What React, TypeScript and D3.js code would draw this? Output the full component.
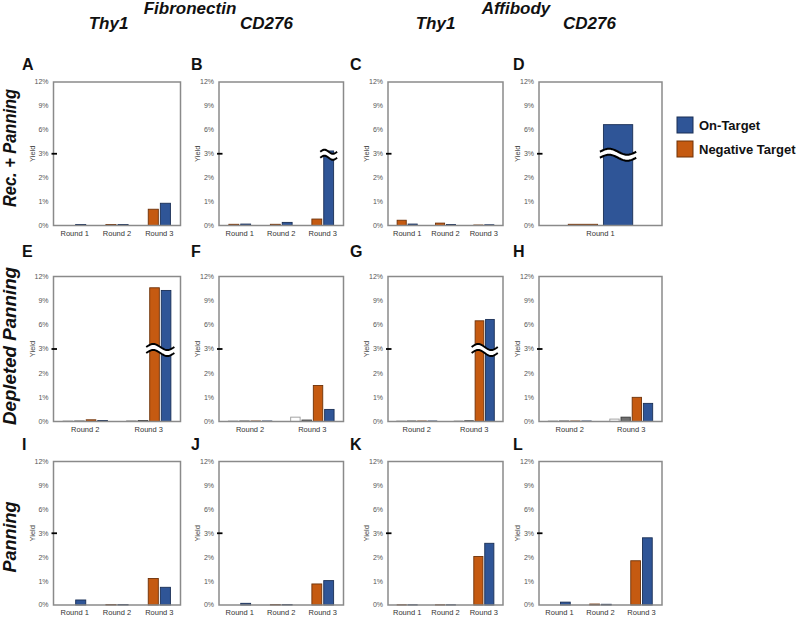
import React from "react";
import * as d3 from "d3";

// ---- data ----
const yTickValues = [0, 1, 2, 3, 6, 9, 12];
const rounds123 = ["Round 1", "Round 2", "Round 3"];
const rounds23 = ["Round 2", "Round 3"];
const rounds1 = ["Round 1"];

const A_neg = [0, 0.04, 0.68];
const A_on = [0.04, 0.04, 0.93];
const B_neg = [0.05, 0.05, 0.27];
const B_on = [0.06, 0.13, 3.35];
const C_neg = [0.22, 0.1, 0.02];
const C_on = [0.06, 0.04, 0.03];
const D_neg = [0.05];
const D_on = [6.65];

const E_white = [0.02, 0.03];
const E_gray = [0.02, 0.04];
const E_neg = [0.07, 10.6];
const E_on = [0.04, 10.27];
const F_white = [0.02, 0.18];
const F_gray = [0.02, 0.06];
const F_neg = [0.02, 1.49];
const F_on = [0.02, 0.5];
const G_white = [0.02, 0.02];
const G_gray = [0.02, 0.03];
const G_neg = [0.02, 6.5];
const G_on = [0.02, 6.67];
const H_white = [0.02, 0.1];
const H_gray = [0.02, 0.18];
const H_neg = [0.02, 1.0];
const H_on = [0.02, 0.75];

const I_neg = [0, 0.02, 1.11];
const I_on = [0.21, 0.02, 0.74];
const J_neg = [0, 0.02, 0.88];
const J_on = [0.07, 0.02, 1.02];
const K_neg = [0.01, 0.01, 2.03];
const K_on = [0.01, 0.01, 2.58];
const L_neg = [0, 0.04, 1.85];
const L_on = [0.12, 0.03, 2.81];

const legendLabels = ["On-Target", "Negative Target"];
const rowLabels = ["Rec. + Panning", "Depleted Panning", "Panning"];
const groupHeaders = ["Fibronectin", "Affibody"];
const colHeaders = ["Thy1", "CD276", "Thy1", "CD276"];

type Series = { key: string; values: number[] };
type Panel = {
  id: string;
  row: number;
  col: number;
  cats: string[];
  series: Series[];
  breaks?: { cat: string; keys: string[] }[];
};

const two = (neg: number[], on: number[]): Series[] => [
  { key: "neg", values: neg },
  { key: "on", values: on },
];
const four = (w: number[], g: number[], neg: number[], on: number[]): Series[] => [
  { key: "white", values: w },
  { key: "gray", values: g },
  { key: "neg", values: neg },
  { key: "on", values: on },
];

const panels: Panel[] = [
  { id: "A", row: 0, col: 0, cats: rounds123, series: two(A_neg, A_on) },
  { id: "B", row: 0, col: 1, cats: rounds123, series: two(B_neg, B_on), breaks: [{ cat: "Round 3", keys: ["on"] }] },
  { id: "C", row: 0, col: 2, cats: rounds123, series: two(C_neg, C_on) },
  { id: "D", row: 0, col: 3, cats: rounds1, series: two(D_neg, D_on), breaks: [{ cat: "Round 1", keys: ["on"] }] },
  { id: "E", row: 1, col: 0, cats: rounds23, series: four(E_white, E_gray, E_neg, E_on), breaks: [{ cat: "Round 3", keys: ["neg", "on"] }] },
  { id: "F", row: 1, col: 1, cats: rounds23, series: four(F_white, F_gray, F_neg, F_on) },
  { id: "G", row: 1, col: 2, cats: rounds23, series: four(G_white, G_gray, G_neg, G_on), breaks: [{ cat: "Round 3", keys: ["neg", "on"] }] },
  { id: "H", row: 1, col: 3, cats: rounds23, series: four(H_white, H_gray, H_neg, H_on) },
  { id: "I", row: 2, col: 0, cats: rounds123, series: two(I_neg, I_on) },
  { id: "J", row: 2, col: 1, cats: rounds123, series: two(J_neg, J_on) },
  { id: "K", row: 2, col: 2, cats: rounds123, series: two(K_neg, K_on) },
  { id: "L", row: 2, col: 3, cats: rounds123, series: two(L_neg, L_on) },
];

// ---- layout / style ----
const W = 800;
const H = 617;
const colLeft = [53.5, 219, 388, 539];
const colRight = [180.5, 343.5, 503, 662];
const rowTop = [82, 276.5, 461.5];
const rowBottom = [225.5, 421.5, 605];
const letterX = [22, 191, 350, 513];
const letterY = [70, 257, 450];

const styles: Record<string, { fill: string; stroke: string }> = {
  neg: { fill: "#C55A11", stroke: "#6E3209" },
  on: { fill: "#2F5597", stroke: "#1A2F55" },
  white: { fill: "#FFFFFF", stroke: "#9A9A9A" },
  gray: { fill: "#6F6F6F", stroke: "#3A3A3A" },
};

const FONT = "Liberation Sans, Arial, sans-serif";

function squigglePath(x0: number, x1: number, yc: number, off: number, amp: number) {
  const n = 24;
  const pts: [number, number][] = [];
  for (let i = 0; i <= n; i++) {
    const t = i / n;
    pts.push([x0 + (x1 - x0) * t, yc + off - amp * Math.sin(2 * Math.PI * t)]);
  }
  return pts;
}

function PanelView({ p }: { p: Panel }) {
  const left = colLeft[p.col];
  const right = colRight[p.col];
  const top = rowTop[p.row];
  const bottom = rowBottom[p.row];
  const y = d3
    .scaleLinear()
    .domain(yTickValues)
    .range(yTickValues.map((_, i) => bottom - (i * (bottom - top)) / (yTickValues.length - 1)));
  const x = d3.scaleBand().domain(p.cats).range([left, right]).padding(0);
  const n = p.series.length;
  const unit = n + 0.2 * (n - 1);
  const groupW = (x.step() * unit) / (unit + 2);
  const inner = d3
    .scaleBand()
    .domain(p.series.map((s) => s.key))
    .range([-groupW / 2, groupW / 2])
    .paddingInner(0.2 / 1.2)
    .paddingOuter(0);
  const bw = inner.bandwidth();
  const line = d3.line();
  const y3 = y(3);

  return (
    <g>
      <text x={letterX[p.col]} y={letterY[p.row]} fontFamily={FONT} fontWeight="bold" fontSize={16} fill="#111">
        {p.id}
      </text>
      {/* bars */}
      {p.series.map((s) =>
        s.values.map((v, i) => {
          if (v <= 0) return null;
          const cx = (x(p.cats[i]) as number) + x.bandwidth() / 2 + (inner(s.key) as number);
          const yt = y(v);
          return (
            <rect
              key={s.key + i}
              x={cx}
              y={yt}
              width={bw}
              height={Math.max(0, bottom - yt)}
              fill={styles[s.key].fill}
              stroke={styles[s.key].stroke}
              strokeWidth={0.9}
            />
          );
        })
      )}
      {/* break symbols */}
      {(p.breaks || []).map((b, bi) => {
        const gx = (x(b.cat) as number) + x.bandwidth() / 2;
        const xs = b.keys.map((k) => gx + (inner(k) as number));
        const x0 = (d3.min(xs) as number) - 3.5;
        const x1 = (d3.max(xs) as number) + bw + 3.5;
        const amp = Math.min(3, (x1 - x0) * 0.12);
        const topPts = squigglePath(x0, x1, y3 + 1, -3, amp);
        const botPts = squigglePath(x0, x1, y3 + 1, 3, amp);
        const area = topPts.concat(botPts.slice().reverse());
        return (
          <g key={bi}>
            <path d={line(area) + "Z"} fill="#fff" stroke="none" />
            <path d={line(topPts) || ""} fill="none" stroke="#000" strokeWidth={2} />
            <path d={line(botPts) || ""} fill="none" stroke="#000" strokeWidth={2} />
          </g>
        );
      })}
      {/* frame */}
      <rect x={left} y={top} width={right - left} height={bottom - top} fill="none" stroke="#8a8a8a" strokeWidth={1.5} />
      {/* axis break mark */}
      <line x1={left - 2} x2={left + 3.5} y1={y3} y2={y3} stroke="#000" strokeWidth={1.8} />
      {/* y tick labels */}
      {yTickValues.map((t) => (
        <text
          key={t}
          x={left - 5}
          y={y(t)}
          dy="0.35em"
          textAnchor="end"
          fontFamily={FONT}
          fontSize={7}
          fill="#555"
        >
          {t + "%"}
        </text>
      ))}
      {/* y label */}
      <text
        transform={`translate(${left - 19},${y3}) rotate(-90)`}
        textAnchor="middle"
        fontFamily={FONT}
        fontSize={7.5}
        fill="#444"
      >
        Yield
      </text>
      {/* x labels */}
      {p.cats.map((c) => (
        <text
          key={c}
          x={(x(c) as number) + x.bandwidth() / 2}
          y={bottom + 10}
          textAnchor="middle"
          fontFamily={FONT}
          fontSize={7.5}
          fill="#333"
        >
          {c}
        </text>
      ))}
    </g>
  );
}

export default function App() {
  const rowCenters = [148, 346, 537];
  const rowLengths = [118, 158, 71];
  return (
    <svg
      width={W}
      height={H}
      style={{ position: "absolute", left: 0, top: 0, display: "block", background: "#fff" }}
    >
      <rect width={W} height={H} fill="#fff" />
      {/* headers */}
      <text x={190} y={13.5} textAnchor="middle" fontFamily={FONT} fontWeight="bold" fontStyle="italic" fontSize={17} fill="#111">
        {groupHeaders[0]}
      </text>
      <text x={516} y={13.5} textAnchor="middle" fontFamily={FONT} fontWeight="bold" fontStyle="italic" fontSize={17} fill="#111">
        {groupHeaders[1]}
      </text>
      {colHeaders.map((h, i) => (
        <text
          key={i}
          x={[108.5, 266.5, 435.5, 589.5][i]}
          y={29}
          textAnchor="middle"
          fontFamily={FONT}
          fontWeight="bold"
          fontStyle="italic"
          fontSize={17}
          fill="#111"
        >
          {h}
        </text>
      ))}
      {/* row labels */}
      {rowLabels.map((r, i) => (
        <text
          key={r}
          transform={`translate(16,${rowCenters[i]}) rotate(-90)`}
          textAnchor="middle"
          fontFamily={FONT}
          fontWeight="bold"
          fontStyle="italic"
          fontSize={18}
          textLength={rowLengths[i]}
          lengthAdjust="spacingAndGlyphs"
          fill="#111"
        >
          {r}
        </text>
      ))}
      {panels.map((p) => (
        <PanelView key={p.id} p={p} />
      ))}
      {/* legend */}
      {legendLabels.map((l, i) => (
        <g key={l}>
          <rect
            x={677}
            y={117 + i * 24}
            width={16}
            height={16}
            fill={i === 0 ? styles.on.fill : styles.neg.fill}
            stroke={i === 0 ? styles.on.stroke : styles.neg.stroke}
            strokeWidth={1}
          />
          <text x={699} y={125 + i * 24} dy="0.35em" fontFamily={FONT} fontWeight="bold" fontSize={13} fill="#111">
            {l}
          </text>
        </g>
      ))}
    </svg>
  );
}
